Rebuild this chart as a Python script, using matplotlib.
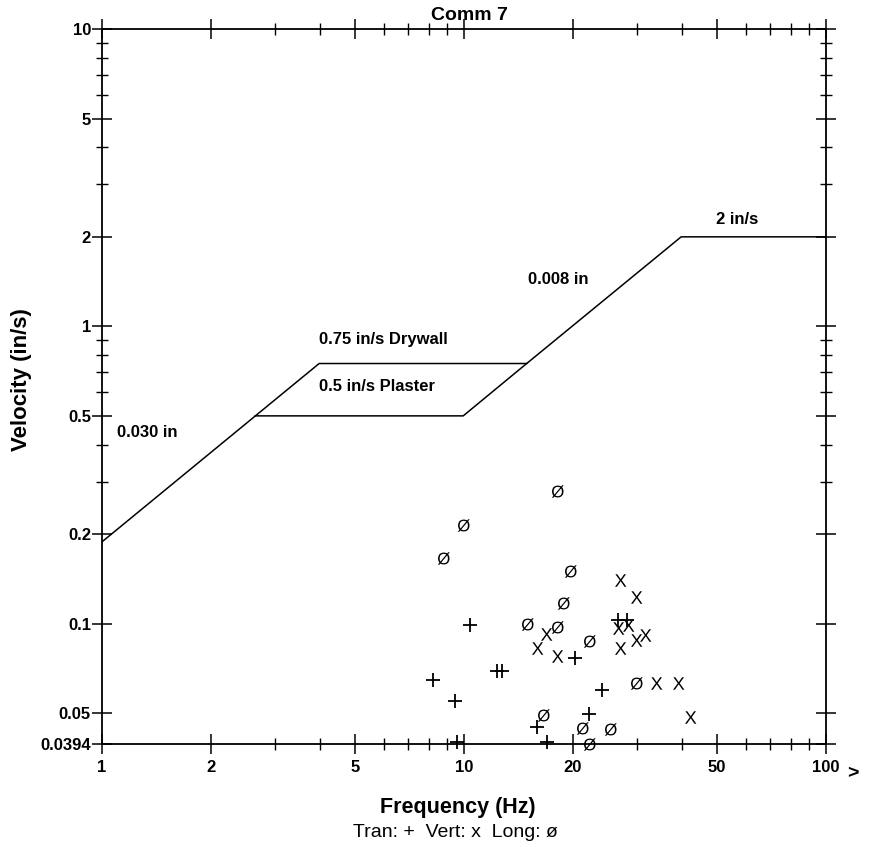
import numpy as np
import matplotlib
matplotlib.use('Agg')
import matplotlib.pyplot as plt
from matplotlib.ticker import FixedLocator, NullFormatter
from matplotlib.textpath import TextPath
from matplotlib.font_manager import FontProperties

plt.rcParams['font.family'] = ['Liberation Sans', 'DejaVu Sans']

# peak particle velocity events (Hz, in/s)
tran_f = [10.4, 8.21, 12.3, 12.7, 9.42, 20.2, 24.1, 22.1, 15.9, 17.0, 9.57, 26.6, 28.2]
tran_v = [0.0993, 0.0648, 0.0696, 0.0696, 0.0549, 0.0765, 0.0597, 0.0498, 0.0448, 0.0399, 0.0401, 0.1032, 0.1032]

vert_f = [26.9, 29.8, 26.7, 28.3, 16.9, 15.9, 18.1, 26.9, 29.9, 31.7, 33.9, 38.9, 42.2]
vert_v = [0.140, 0.123, 0.097, 0.0989, 0.0925, 0.0826, 0.0779, 0.083, 0.0881, 0.0916, 0.0632, 0.0633, 0.0486]

long_f = [18.1, 9.95, 8.75, 19.6, 18.8, 14.9, 18.1, 22.1, 29.8, 16.5, 21.2, 25.3, 22.1]
long_v = [0.280, 0.214, 0.166, 0.150, 0.117, 0.0998, 0.0975, 0.0877, 0.0634, 0.0493, 0.0446, 0.0441, 0.0395]

# limit curves
drywall_f = [1, 3.98, 14.9, 39.8, 100]
drywall_v = [0.1885, 0.75, 0.75, 2.0, 2.0]
plaster_f = [2.65, 9.95, 14.9]
plaster_v = [0.5, 0.5, 0.75]

x_major = [1, 2, 5, 10, 20, 50, 100]
x_labels = ['1', '2', '5', '10', '20', '50', '100']
x_minor = [3, 4, 6, 7, 8, 9, 30, 40, 60, 70, 80, 90]
y_major = [0.0394, 0.05, 0.1, 0.2, 0.5, 1, 2, 5, 10]
y_labels = ['0.0394', '0.05', '0.1', '0.2', '0.5', '1', '2', '5', '10']
y_minor = [0.3, 0.4, 0.6, 0.7, 0.8, 0.9, 3, 4, 6, 7, 8, 9]


def glyph(ch):
    # marker shaped like the printed character
    p = TextPath((0, 0), ch, size=10, prop=FontProperties(family='Liberation Sans'))
    v = p.vertices.copy()
    v -= (v.max(axis=0) + v.min(axis=0)) / 2
    return matplotlib.path.Path(v, p.codes)


W, H = 869, 847
fig = plt.figure(figsize=(W/100, H/100), dpi=100)
ax = fig.add_axes([102/W, 1-744/H, (826-102)/W, (744-29)/H])

ax.set_xscale('log')
ax.set_yscale('log')
ax.set_xlim(1, 100)
ax.set_ylim(0.0394, 10)

ax.plot(drywall_f, drywall_v, color='black', lw=1.1)
ax.plot(plaster_f, plaster_v, color='black', lw=1.1)

ax.plot(tran_f, tran_v, ls='none', marker='+', ms=9.5, mew=1.3, color='black', clip_on=False)
ax.plot(vert_f, vert_v, ls='none', marker=glyph('X'), ms=9, mew=0, color='black', clip_on=False)
ax.plot(long_f, long_v, ls='none', marker=glyph('Ø'), ms=9, mew=0, color='black', clip_on=False)

bold = dict(fontsize=12, fontweight='bold')
ax.text(1.33, 0.44, '0.030 in', ha='center', va='center', **bold)
ax.text(3.98, 0.90, '0.75 in/s Drywall', ha='left', va='center', **bold)
ax.text(3.97, 0.627, '0.5 in/s Plaster', ha='left', va='center', **bold)
ax.text(18.2, 1.44, '0.008 in', ha='center', va='center', **bold)
ax.text(56.7, 2.29, '2 in/s', ha='center', va='center', **bold)

ax.xaxis.set_major_locator(FixedLocator(x_major))
ax.xaxis.set_minor_locator(FixedLocator(x_minor))
ax.xaxis.set_minor_formatter(NullFormatter())
ax.set_xticklabels(x_labels)
ax.yaxis.set_major_locator(FixedLocator(y_major))
ax.yaxis.set_minor_locator(FixedLocator(y_minor))
ax.yaxis.set_minor_formatter(NullFormatter())
ax.set_yticklabels(y_labels)

ax.tick_params(which='both', direction='inout', top=True, right=True, color='black')
ax.tick_params(which='major', length=15, width=1.1)
ax.tick_params(which='minor', length=8, width=1.0)
ax.tick_params(axis='x', which='major', labelsize=12, pad=4)
ax.tick_params(axis='y', which='major', labelsize=12, pad=0.5)
for lab in ax.get_xticklabels() + ax.get_yticklabels():
    lab.set_fontweight('bold')

for s in ax.spines.values():
    s.set_linewidth(1.3)

fig.text(469/W, 1-16/H, 'Comm 7', ha='center', va='center', fontsize=14, fontweight='bold')
fig.text(22/W, 1-380/H, 'Velocity (in/s)', rotation=90, ha='center', va='center', fontsize=16, fontweight='bold')
fig.text(458/W, 1-807/H, 'Frequency (Hz)', ha='center', va='center', fontsize=15.5, fontweight='bold')
fig.text(455/W, 1-832/H, 'Tran: +  Vert: x  Long: ø', ha='center', va='center', fontsize=14)
fig.text(853/W, 1-774/H, '>', ha='center', va='center', fontsize=14, fontweight='bold')

fig.savefig('out.png', dpi=100, facecolor='white')
